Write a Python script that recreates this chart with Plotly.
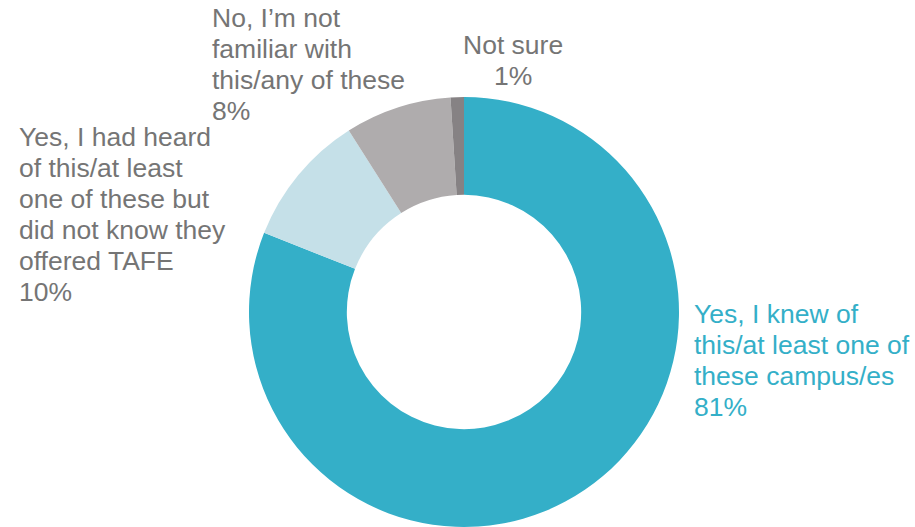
import plotly.graph_objects as go

categories = [
    "Yes, I knew of this/at least one of these campus/es",
    "Yes, I had heard of this/at least one of these but did not know they offered TAFE",
    "No, I'm not familiar with this/any of these",
    "Not sure",
]
values = [81, 10, 8, 1]
colors = ["#34AFC8", "#C5E0E8", "#AFACAD", "#868284"]

# label lines (as displayed) for each slice
label_lines = [
    ["Yes, I knew of", "this/at least one of", "these campus/es", "81%"],
    ["Yes, I had heard", "of this/at least", "one of these but", "did not know they", "offered TAFE", "10%"],
    ["No, I\u2019m not", "familiar with", "this/any of these", "8%"],
    ["Not sure", "1%"],
]
text_colors = ["#34AFC8", "#757575", "#757575", "#757575"]
# anchor (x px, first-line y px, alignment) per label
anchors = [(692, 314, "left"), (17, 137, "left"), (210, 18, "left"), (513, 45, "center")]

W, H = 915, 527
cx, cy, R = 464, 312, 215
line_gap = 31

fig = go.Figure(go.Pie(
    labels=categories,
    values=values,
    marker=dict(colors=colors, line=dict(width=0)),
    hole=0.545,
    sort=False,
    direction="clockwise",
    rotation=0,
    textinfo="none",
    hoverinfo="label+percent",
    domain=dict(x=[(cx - R) / W, (cx + R) / W], y=[(H - cy - R) / H, (H - cy + R) / H]),
    showlegend=False,
))

anns = []
for lines, col, (ax, ay, al) in zip(label_lines, text_colors, anchors):
    for i, ln in enumerate(lines):
        anns.append(dict(
            x=ax / W, y=1 - (ay + i * line_gap) / H, xref="paper", yref="paper",
            text=ln, showarrow=False, xanchor=al, yanchor="middle",
            font=dict(family="Liberation Sans, Arial, sans-serif", size=26.5, color=col),
        ))

fig.update_layout(
    width=W, height=H,
    margin=dict(l=0, r=0, t=0, b=0),
    paper_bgcolor="white",
    plot_bgcolor="white",
    annotations=anns,
)

fig.write_html(
    "out.html",
    config={"displayModeBar": False},
    post_script="document.body.style.margin='0px';document.body.style.overflow='hidden';",
)
